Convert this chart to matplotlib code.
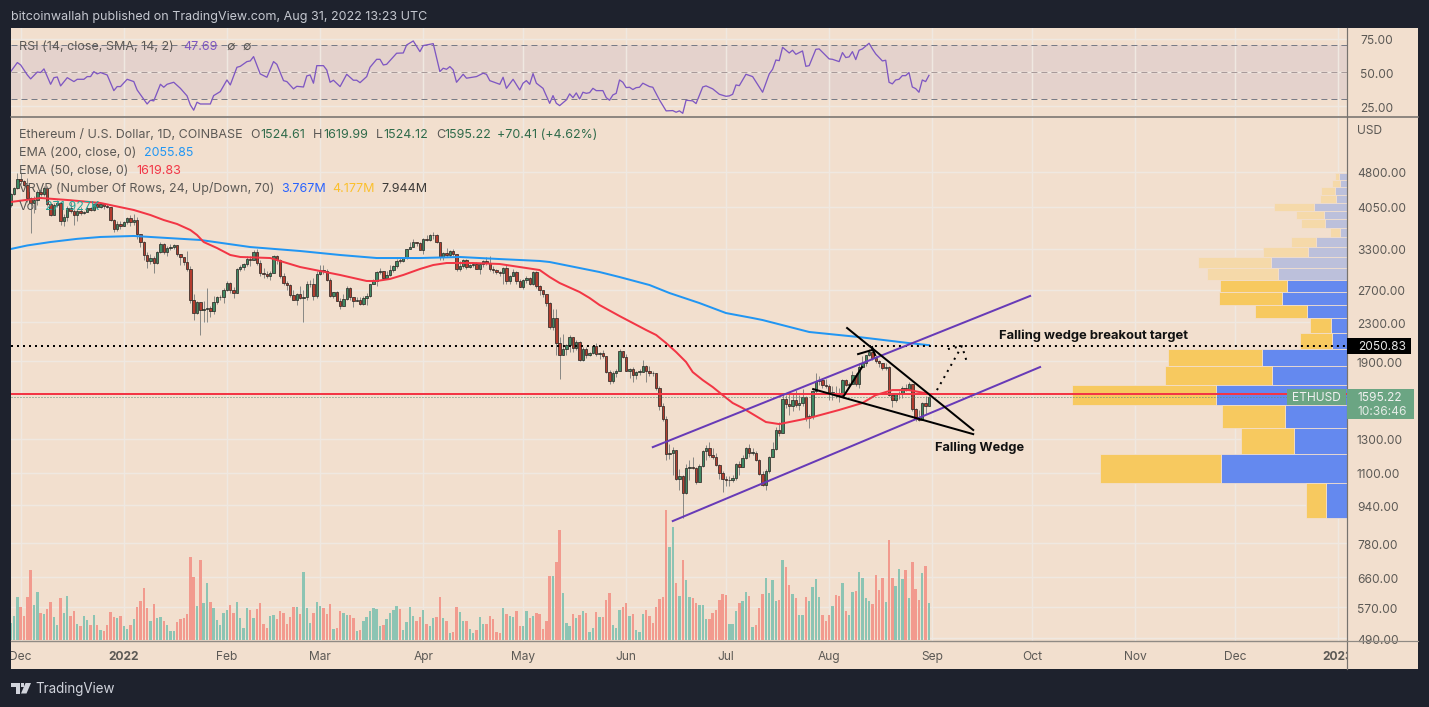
import numpy as np
import matplotlib
matplotlib.use("Agg")
import matplotlib.pyplot as plt
from matplotlib.patches import Rectangle, Polygon
from matplotlib.transforms import Bbox, ScaledTranslation

W, H = 1429, 707
DARK = "#1e222d"; BG = "#f2dfce"; GRID = "#efe8e1"; AXL = "#8f8a84"; TXT = "#5c5955"

plt.rcParams["font.family"] = ["Inter", "DejaVu Sans"]

# ---------- daily bars, 28 Nov 2021 .. 31 Aug 2022 ----------
closes = [4300, 4445, 4636,
 4586,4512,4220,4120,4195,4350,4310,4430,4110,3890,4080,4130,3780,3860,4020,3960,3880,3960,3920,3940,4020,3980,4110,4045,4095,4065,4035,3795,3630,3715,3680,
 3765,3830,3760,3790,3540,3415,3195,3100,3155,3080,3240,3375,3240,3310,3330,3350,3210,3160,3085,2990,2560,2405,2535,2440,2460,2465,2425,2545,2600,2605,2690,
 2790,2690,2660,2990,3010,3060,3130,3120,3240,3080,2925,2915,2880,2930,3180,3125,2885,2785,2760,2630,2570,2640,2595,2600,2770,2780,2620,2920,
 2975,2950,2835,2620,2665,2555,2495,2575,2725,2605,2555,2570,2515,2590,2620,2770,2815,2945,2950,2860,2895,2970,3030,3110,3105,3145,3295,3330,3400,3385,3280,
 3450,3445,3520,3520,3405,3170,3235,3190,3260,3210,2980,3030,3115,3020,3040,3065,2990,3055,3105,3075,2985,2965,2945,2925,3005,2810,2890,2935,2815,2730,
 2825,2860,2780,2940,2750,2695,2635,2525,2245,2345,2075,1960,2015,2055,2145,2025,2090,1915,2020,1960,1975,2045,1970,1980,1945,1800,1725,1795,1815,1995,1940,
 1815,1830,1775,1805,1805,1860,1815,1795,1790,1665,1530,1435,1205,1210,1230,1070,1085,995,1125,1130,1125,1050,1140,1225,1245,1200,1190,1145,1100,1070,
 1060,1065,1075,1150,1135,1185,1240,1215,1215,1170,1095,1035,1110,1190,1235,1355,1340,1580,1545,1525,1575,1535,1550,1595,1440,1450,1640,1725,1730,1695,1680,
 1630,1630,1620,1610,1735,1695,1700,1775,1700,1850,1880,1955,1985,1935,1905,1880,1835,1850,1610,1575,1620,1625,1665,1655,1700,1505,1435,1425,1550,1525,1595]
highs = [4340,4470,4780,
 4770,4620,4650,4240,4260,4400,4420,4480,4490,4130,4120,4190,4140,3900,4060,4140,4000,4000,4040,3960,4040,4040,4120,4120,4120,4130,4110,4050,3820,3770,3770,
 3770,3860,3880,3900,3860,3550,3420,3240,3220,3180,3260,3410,3390,3340,3370,3370,3360,3210,3170,3260,3030,2640,2550,2540,2550,2720,2490,2620,2620,2630,2720,
 2810,2800,2730,3000,3050,3080,3180,3180,3270,3290,3120,3000,2950,2960,3190,3190,3130,2930,2810,2770,2700,2650,2750,2700,2820,2830,2850,2950,
 3040,3040,2980,2860,2670,2680,2590,2640,2750,2730,2600,2600,2600,2610,2660,2780,2840,2960,3000,2950,2960,3040,3040,3130,3150,3150,3300,3400,3450,3410,3400,
 3480,3530,3550,3580,3550,3410,3250,3310,3270,3300,3220,3100,3130,3140,3060,3080,3090,3060,3120,3170,3180,3030,2980,2960,3020,3040,2900,2980,2950,2840,
 2840,2890,2870,2960,2950,2760,2690,2640,2540,2450,2450,2140,2170,2070,2160,2140,2110,2100,2040,2040,1990,2050,2080,1990,2010,1950,1820,1810,1830,2020,2000,
 1970,1840,1850,1810,1825,1910,1870,1860,1810,1790,1680,1550,1450,1270,1250,1230,1120,1090,1150,1170,1190,1130,1150,1230,1260,1280,1240,1210,1150,1110,
 1085,1085,1090,1155,1165,1200,1250,1270,1240,1225,1180,1110,1120,1195,1280,1375,1410,1620,1610,1620,1620,1650,1610,1660,1600,1465,1650,1790,1770,1750,1745,
 1700,1680,1680,1665,1740,1740,1720,1810,1790,1880,1950,1960,2020,2030,1960,1910,1880,1880,1860,1610,1630,1640,1680,1700,1720,1700,1510,1500,1560,1600,1620]
lows = [4050,4280,4420,
 4520,4480,4150,3560,3930,4090,4260,4260,4060,3870,3880,4040,3700,3680,3770,3930,3700,3780,3890,3900,3940,3960,3970,4030,4030,4010,4020,3780,3580,3590,3630,
 3680,3720,3680,3710,3460,3320,3120,3000,3060,2930,3060,3230,3220,3180,3280,3300,3180,3050,3050,2950,2530,2320,2400,2160,2300,2300,2360,2390,2520,2570,2530,
 2680,2650,2590,2650,2960,2970,3030,3030,3120,3050,2880,2850,2850,2830,2930,3060,2860,2760,2700,2600,2560,2500,2580,2300,2570,2730,2560,2590,
 2900,2920,2810,2600,2590,2550,2450,2490,2570,2560,2480,2550,2500,2500,2500,2600,2780,2750,2910,2850,2840,2880,2940,3000,3070,3090,3130,3290,3320,3340,3270,
 3210,3420,3420,3460,3390,3120,3120,3160,3170,3180,2960,2950,3000,2980,3000,3020,2980,2910,3020,3040,2950,2930,2920,2890,2780,2780,2780,2880,2770,2730,
 2710,2790,2760,2760,2720,2630,2600,2490,2230,2210,1960,1740,1960,1960,1990,1990,2010,1900,1900,1930,1950,1970,1950,1920,1930,1790,1700,1710,1760,1810,1930,
 1810,1750,1720,1740,1780,1800,1720,1770,1770,1650,1500,1420,1170,1180,1090,1060,1010,880,990,1060,1120,1040,1050,1130,1170,1190,1180,1140,1070,1000,
 1030,1030,1050,1060,1090,1130,1180,1190,1200,1165,1090,1030,1010,1100,1190,1230,1320,1340,1510,1460,1490,1520,1500,1530,1420,1370,1430,1620,1690,1670,1670,
 1570,1570,1590,1560,1600,1680,1670,1700,1680,1670,1850,1860,1950,1910,1880,1850,1820,1820,1600,1520,1560,1580,1590,1640,1650,1490,1420,1420,1425,1470,1524]
first_open = 4090

# volume in units of 2430 ETH (last bar = 271.927K)
VOL_UNIT = 2.43
volume_read = [52,72,129,99,72,129,210,105,144,82,78,93,114,69,45,126,82,132,72,87,48,42,72,59,45,75,45,30,28,45,84,69,66,72,42,33,45,63,99,117,156,96,56,108,66,69,56,45,26,26,54,63,66,78,249,189,102,240,111,170,114,96,59,45,81,90,105,81,114,66,36,96,90,66,93,111,48,36,72,75,63,87,82,48,69,99,99,78,204,96,51,81,114,102,96,78,109,33,36,87,81,75,75,66,26,30,57,69,87,96,93,42,45,63,81,90,102,93,30,53,99,72,57,69,89,48,42,66,69,129,66,57,21,24,99,84,57,56,32,21,30,69,
 48,48,72,62,23,21,96,78,72,69,86,42,42,86,66,72,81,78,32,57,192,192,234,330,140,51,42,78,66,75,86,81,24,36,84,69,69,120,141,45,36,90,99,111,72,78,29,24,78,90,72,51,99,123,129,390,280,339,170,132,240,180,129,126,112,105,105,63,63,82,90,120,139,135,48,48,86,111,117,144,132,39,45,96,138,186,141,180,117,120,240,219,165,138,126,75,75,129,117,159,183,129,75,57,75,102,135,132,171,86,75,144,147,204,186,126,117,108,195,150,186,113,300,186,162,213,183,210,126,234,153,120,201,222,112]

# moving averages: vertices (bar number, price)
ema200_day = [0,5,12,20,27,37,57,72,87,99,110,123,135,147,159,162,168,177,183,192,198,207,215,223,226,240,255,270,276]
ema200_val = [3292,3350,3407,3460,3492,3509,3441,3324,3260,3197,3150,3150,3166,3134,3105,3089,3029,2941,2870,2760,2654,2527,2406,2348,2325,2193,2139,2077,2056]
ema50_day = [0,9,18,27,37,42,46,50,54,56,58,62,66,69,78,87,93,99,107,110,114,118,123,127,131,139,147,153,159,162,165,171,174,177,183,191,194,197,200,203,205,208,211,214,217,220,224,227,231,240,249,256,260,265,270,276]
ema50_val = [4144,4226,4180,4124,3985,3888,3794,3721,3613,3526,3407,3308,3197,3166,3150,3014,2956,2899,2815,2815,2843,2899,2985,3044,3074,3074,3059,3014,2970,2870,2787,2667,2590,2502,2371,2214,2161,2077,1988,1893,1802,1733,1675,1610,1549,1511,1453,1411,1397,1439,1497,1549,1610,1650,1650,1620]

# RSI vertices (bar number, value)
rsi_day = [0,2,3,5,6,8,9,10,12,13,14,15,17,19,20,22,23,24,25,26,27,29,31,32,33,35,37,38,41,42,43,45,46,47,49,51,53,54,55,56,57,60,61,63,65,66,68,69,71,72,73,75,77,79,80,82,83,85,86,88,89,90,91,92,94,95,96,97,99,101,103,104,105,107,108,110,111,112,113,116,118,119,121,123,124,127,129,130,131,132,133,134,136,137,140,
 142,143,144,147,148,149,151,153,154,155,156,157,158,160,162,163,164,165,167,168,169,170,171,172,173,174,175,176,178,179,180,181,182,183,184,185,186,187,188,189,190,192,193,195,197,199,200,201,202,203,205,206,208,209,211,213,215,216,217,218,219,221,223,226,228,229,230,231,232,234,235,236,238,239,240,242,243,246,247,249,250,251,252,253,254,255,256,258,259,260,262,263,264,265,266,267,268,269,270,271,272,273,274,275,276]
rsi_val = [50.5,57.2,55.4,48.0,45.1,50.2,49.8,52.5,41.1,46.0,46.5,39.9,46.0,43.1,44.8,44.8,46.8,46.8,50.5,48.8,49.8,48.0,36.4,39.4,39.4,44.8,43.1,36.9,26.5,29.3,28.8,41.1,38.9,41.1,42.6,38.1,32.5,25.8,21.9,27.8,26.5,26.5,32.7,35.7,44.3,40.6,53.7,54.4,57.9,58.4,61.6,48.8,46.3,57.9,55.9,43.8,43.1,37.7,39.6,39.1,47.3,48.0,41.9,54.9,54.9,51.7,42.6,44.1,39.4,48.5,44.1,44.1,42.3,46.8,53.7,59.6,59.6,55.4,55.9,64.1,64.3,70.2,73.2,65.3,69.8,71.2,50.5,53.0,52.2,54.2,51.7,42.6,48.5,45.6,46.8,
 49.3,48.5,43.8,41.1,46.3,38.1,44.8,36.9,41.9,43.8,41.1,49.0,41.9,38.1,27.0,32.7,27.0,25.3,29.5,34.0,31.2,34.7,30.2,35.2,34.4,34.9,38.1,36.4,36.4,31.2,29.3,33.2,34.4,44.3,42.6,38.6,38.9,37.2,38.6,38.9,41.9,39.4,38.9,29.5,21.4,21.6,20.4,21.4,19.6,29.3,28.8,26.8,39.1,39.9,37.7,33.7,32.2,32.5,33.7,40.6,40.1,48.5,46.8,35.2,48.8,52.2,59.1,58.6,68.5,64.3,66.3,63.3,65.8,54.4,54.9,67.0,67.3,59.9,59.6,57.9,64.6,60.9,61.4,65.3,59.4,66.3,67.3,71.5,67.3,63.6,58.4,58.9,42.6,41.4,44.3,44.8,47.5,47.5,49.8,39.1,37.9,35.2,44.3,43.1,47.69]

# volume profile, top row first (thousand ETH per row)
vrvp_up = [29,25,43,39,113,81,75,25,106,137,265,238,207,227,140,57,53,296,261,456,216,184,439,74]
vrvp_down = [14,28,49,56,141,97,86,35,89,156,253,249,233,218,180,73,111,326,371,500,219,185,417,69]
vrvp_low = 883
vrvp_step = 162.5
vrvp_faded_rows = 12

# axes labels
price_ticks = [4800,4050,3300,2700,2300,1900,1300,1100,940,780,660,570,490]
rsi_ticks = [75,50,25]
month_days = [3,34,65,93,124,154,185,215,246,277,307,338,368,399]
month_labels = ["Dec","2022","Feb","Mar","Apr","May","Jun","Jul","Aug","Sep","Oct","Nov","Dec","2023"]
bold_months = {"2022","2023"}

# drawings (bar number, price)
channel_top = ([193,306.4],[1248,2616])
channel_bottom = ([199,309.4],[869,1847])
wedge_top = ([251.4,289.3],[2236,1357])
wedge_bottom = ([241.2,289.3],[1658,1330])
move_up = ([250.2,255.9],[1595,1847])
move_head_a = ([254.7,258.9],[1968,2008])
move_head_b = ([258.9,259.8],[2037,1959])
target_path = ([278.4,285.9,287.4],[1650,2047,1893])
target_head = ([281.7,285.9],[2017,2047])
ema50_last, target_price, last_price = 1619.83, 2050.83, 1595.22

# ---------- geometry ----------
L, R, T_RSI, B_RSI, T_M, B_M, B_T, FR = 10.7, 1347, 28, 116, 117, 641, 669, 1418
DAY = 3.327
XLIM = (0, (R - L) / DAY)
def P(p): return p / 1.389  # px -> pt at 100 dpi
def box(l, t, r, b): return [l / W, 1 - b / H, (r - l) / W, (b - t) / H]
def fx(x): return x / W
def fy(y): return 1 - y / H

fig = plt.figure(figsize=(W / 100, H / 100), dpi=100, facecolor=DARK)
fig.add_artist(Rectangle((fx(L), fy(B_T)), (FR - L) / W, (B_T - T_RSI) / H, transform=fig.transFigure,
                         fc=BG, ec="none", zorder=0))

YLIM = (483, 6283)
n = len(closes)
if not (n == len(highs) == len(lows) == len(volume_read)):
    raise SystemExit(f"len {n} {len(highs)} {len(lows)} {len(volume_read)}")
x = np.arange(n)
closes = np.array(closes, float); highs = np.array(highs, float); lows = np.array(lows, float)
opens = np.r_[first_open, closes[:-1]]
up = closes >= opens

# grid background
ax_bg = fig.add_axes(box(L, T_M, R, B_M), zorder=1, facecolor="none")
ax_bg.set_yscale("log"); ax_bg.set_ylim(YLIM); ax_bg.set_xlim(XLIM)
ax_bg.minorticks_off()
ax_bg.set_yticks(price_ticks); ax_bg.set_xticks(month_days)
ax_bg.tick_params(length=0, labelleft=False, labelbottom=False)
ax_bg.grid(True, color=GRID, lw=P(1.5))
for s in ax_bg.spines.values(): s.set_visible(False)

# volume profile
ax_pr = fig.add_axes(box(L, T_M, R, B_M), zorder=2, facecolor="none")
ax_pr.set_yscale("log"); ax_pr.set_ylim(YLIM)
ax_pr.set_xlim((R - L) / 0.288, 0); ax_pr.axis("off")
nr = len(vrvp_up)
for i in range(nr):
    lo = vrvp_low + (nr - 1 - i) * vrvp_step
    faded = i < vrvp_faded_rows
    cb, cy = ("#bcc0db", "#f5d9a9") if faded else ("#6489ef", "#f7c95f")
    ax_pr.barh(lo, vrvp_up[i], height=vrvp_step, align="edge", color=cb, edgecolor=BG, linewidth=P(0.8))
    ax_pr.barh(lo, vrvp_down[i], left=vrvp_up[i], height=vrvp_step, align="edge", color=cy, edgecolor=BG, linewidth=P(0.8))

# volume
ax_v = fig.add_axes(box(L, T_M, R, B_M), zorder=3, facecolor="none")
ax_v.set_xlim(XLIM); ax_v.set_ylim(-7.29, (B_M - T_M - 1) * 7.29); ax_v.axis("off")
vols = np.array(volume_read) * VOL_UNIT
ax_v.bar(x, vols, width=0.72, color=np.where(up, "#8cc4b3", "#f29a8e"), linewidth=0)

# price pane
ax = fig.add_axes(box(L, T_M, R, B_M), zorder=4, facecolor="none")
ax.set_yscale("log"); ax.set_ylim(YLIM); ax.set_xlim(XLIM)
ax.minorticks_off()
ax.vlines(x, lows, highs, color="#8b8a86", lw=P(1.0), zorder=2)
body_low = np.minimum(opens, closes); body_h = np.abs(closes - opens)
body_h = np.maximum(body_h, body_low * 0.003)
ax.bar(x, body_h, bottom=body_low, width=0.72, color=np.where(up, "#3f8a64", "#b43c2e"),
       edgecolor="#2e2a26", linewidth=P(0.75), zorder=3)
ax.plot(ema200_day, ema200_val, color="#2196f3", lw=P(2), zorder=4, solid_joinstyle="round")
ax.plot(ema50_day, ema50_val, color="#f23645", lw=P(2), zorder=4, solid_joinstyle="round")
ax.axhline(last_price, color="#5f8f78", lw=P(1), ls=(0, (1, 2)), zorder=4)
ax.axhline(ema50_last, color="#f23645", lw=P(2), zorder=5)
ax.axhline(target_price, color="black", lw=P(2), ls=(0, (1, 2)), zorder=6)
for seg in (channel_top, channel_bottom):
    ax.plot(*seg, color="#673ab7", lw=P(2), zorder=6)
for seg in (wedge_top, wedge_bottom, move_up, move_head_a, move_head_b):
    ax.plot(*seg, color="black", lw=P(2), zorder=7)
for seg in (target_path, target_head):
    ax.plot(*seg, color="black", lw=P(2), ls=(0, (1, 2.5)), zorder=7)
ax.text(297, target_price * 1.052, "Falling wedge breakout target", fontsize=P(13), fontweight="bold", color="#111", zorder=8, va="center")
ax.text(277.9, 1242, "Falling Wedge", fontsize=P(12.8), fontweight="bold", color="#111", zorder=8, va="center")

ax.yaxis.tick_right()
ax.set_yticks(price_ticks)
ax.set_yticklabels([f"{v:.2f}" for v in price_ticks])
ax.set_xticks(month_days)
ax.set_xticklabels(month_labels)
ax.tick_params(axis="y", length=0, pad=P(10), labelsize=P(12), labelcolor=TXT)
ax.tick_params(axis="x", length=0, pad=P(10), labelsize=P(12), labelcolor=TXT)
clip = Bbox([[L, 0], [R, H]])
for lb in ax.get_xticklabels():
    lb.set_clip_box(clip); lb.set_clip_on(True)
    if lb.get_text() in bold_months:
        lb.set_fontweight("bold")
down_1px = ScaledTranslation(0, -1 / 100, fig.dpi_scale_trans)
for lb in ax.get_yticklabels():
    lb.set_transform(lb.get_transform() + down_1px)
for s in ax.spines.values(): s.set_visible(False)
ax.spines["bottom"].set_visible(True); ax.spines["bottom"].set_color(AXL); ax.spines["bottom"].set_linewidth(P(1.4))

# RSI pane
ar = fig.add_axes(box(L, T_RSI, R, B_RSI), zorder=4, facecolor="none")
ar.set_xlim(XLIM); ar.set_ylim(17.6, 82.8)
ar.axhspan(30, 70, color="#e4d2cc", lw=0, zorder=0)
ar.set_yticks(rsi_ticks); ar.set_xticks(month_days)
ar.yaxis.tick_right()
ar.set_yticklabels([f"{v:.2f}" for v in rsi_ticks])
ar.tick_params(axis="y", length=0, pad=P(13), labelsize=P(12), labelcolor=TXT)
ar.tick_params(axis="x", length=0, labelbottom=False)
ar.grid(True, color=GRID, lw=P(1.5), zorder=1)
ar.set_axisbelow(True)
for lb in ar.get_yticklabels():
    lb.set_transform(lb.get_transform() + down_1px)
for v in (70, 30):
    ar.axhline(v, color="#787b86", lw=P(1), ls=(0, (6, 4)), zorder=2)
ar.axhline(50, color="#a89a9a", lw=P(1), ls=(0, (6, 4)), zorder=2)
ar.plot(rsi_day, rsi_val, color="#7e57c2", lw=P(1.3), zorder=3)
for s in ar.spines.values(): s.set_visible(False)

# frame lines
fl = dict(transform=fig.transFigure, zorder=6)
fig.add_artist(plt.Line2D([fx(L), fx(FR)], [fy(116.5)] * 2, color="#77736e", lw=P(1.6), **fl))
fig.add_artist(plt.Line2D([fx(R)] * 2, [fy(T_RSI), fy(B_T)], color="#77736e", lw=P(1.2), **fl))
fig.add_artist(plt.Line2D([fx(R), fx(FR)], [fy(B_M)] * 2, color=AXL, lw=P(1.2), **fl))

# texts
def put(px, py, s, color=TXT, size=12.5, weight="normal", z=10, ha="left"):
    fig.text(fx(px), fy(py + 1.2), s, color=color, fontsize=P(size), fontweight=weight, va="center", ha=ha, zorder=z)

put(11, 16, "bitcoinwallah published on TradingView.com, Aug 31, 2022 13:23 UTC", color="#c5c8d0", size=12.5)
put(19, 45.5, "RSI (14, close, SMA, 14, 2)")
put(183, 45.5, "47.69", color="#7e57c2")
put(226, 45.5, "∅"); put(242, 45.5, "∅")
GREEN_T = "#2f6b4a"
put(19, 133.5, "Ethereum / U.S. Dollar, 1D, COINBASE")
for xx, a, b in [(250, "O", "1524.61"), (313, "H", "1619.99"), (376, "L", "1524.12"), (436, "C", "1595.22")]:
    put(xx, 133.5, a)
    put(xx + (10 if a in "OH" else 8 if a == "C" else 7), 133.5, b, color=GREEN_T)
put(497, 133.5, "+70.41 (+4.62%)", color=GREEN_T)
put(19, 151.5, "EMA (200, close, 0)"); put(144, 151.5, "2055.85", color="#2196f3")
put(19, 169.5, "EMA (50, close, 0)"); put(136, 169.5, "1619.83", color="#f23645")
put(19, 187.5, "VRVP (Number Of Rows, 24, Up/Down, 70)")
put(281, 187.5, "3.767M", color="#2962ff"); put(332, 187.5, "4.177M", color="#fbc02d"); put(381, 187.5, "7.944M", color="#3c3a38")
put(19, 205.5, "Vol"); put(45, 205.5, "271.927K", color="#26a69a")
put(1357, 130, "USD", size=12)

def tag(l, t, r, b, c):
    fig.add_artist(Rectangle((fx(l), fy(b)), (r - l) / W, (b - t) / H, transform=fig.transFigure, fc=c, ec="none", zorder=11))
tag(1347, 338, 1411, 354, "black"); put(1358, 345.5, "2050.83", color="#e8e8e8", size=12, z=12)
tag(1347, 389, 1414, 419, "#6ba583")
put(1358, 396.5, "1595.22", color="#f0f0f0", size=12, z=12); put(1358, 410.5, "10:36:46", color="#e4ece6", size=12, z=12)
tag(1287, 389, 1346, 405, "#6ba583"); put(1292, 396.5, "ETHUSD", color="#f0f0f0", size=12, z=12)

# footer logo
LOGO = "#d1d4dc"
def poly(pts):
    fig.add_artist(Polygon([(fx(a), fy(b)) for a, b in pts], transform=fig.transFigure, fc=LOGO, ec="none", zorder=10))
poly([(11, 683), (20, 683), (20, 693.5), (15.5, 693.5), (15.5, 687), (11, 687)])
poly([(25.5, 683), (31, 683), (26.5, 693.5), (21, 693.5)])
poly([(20.8, 683.2), (24.4, 683.2), (24.4, 686.8), (20.8, 686.8)])
put(35, 688, "TradingView", color=LOGO, size=13.4)

fig.savefig("out.png", dpi=100, facecolor=DARK)
